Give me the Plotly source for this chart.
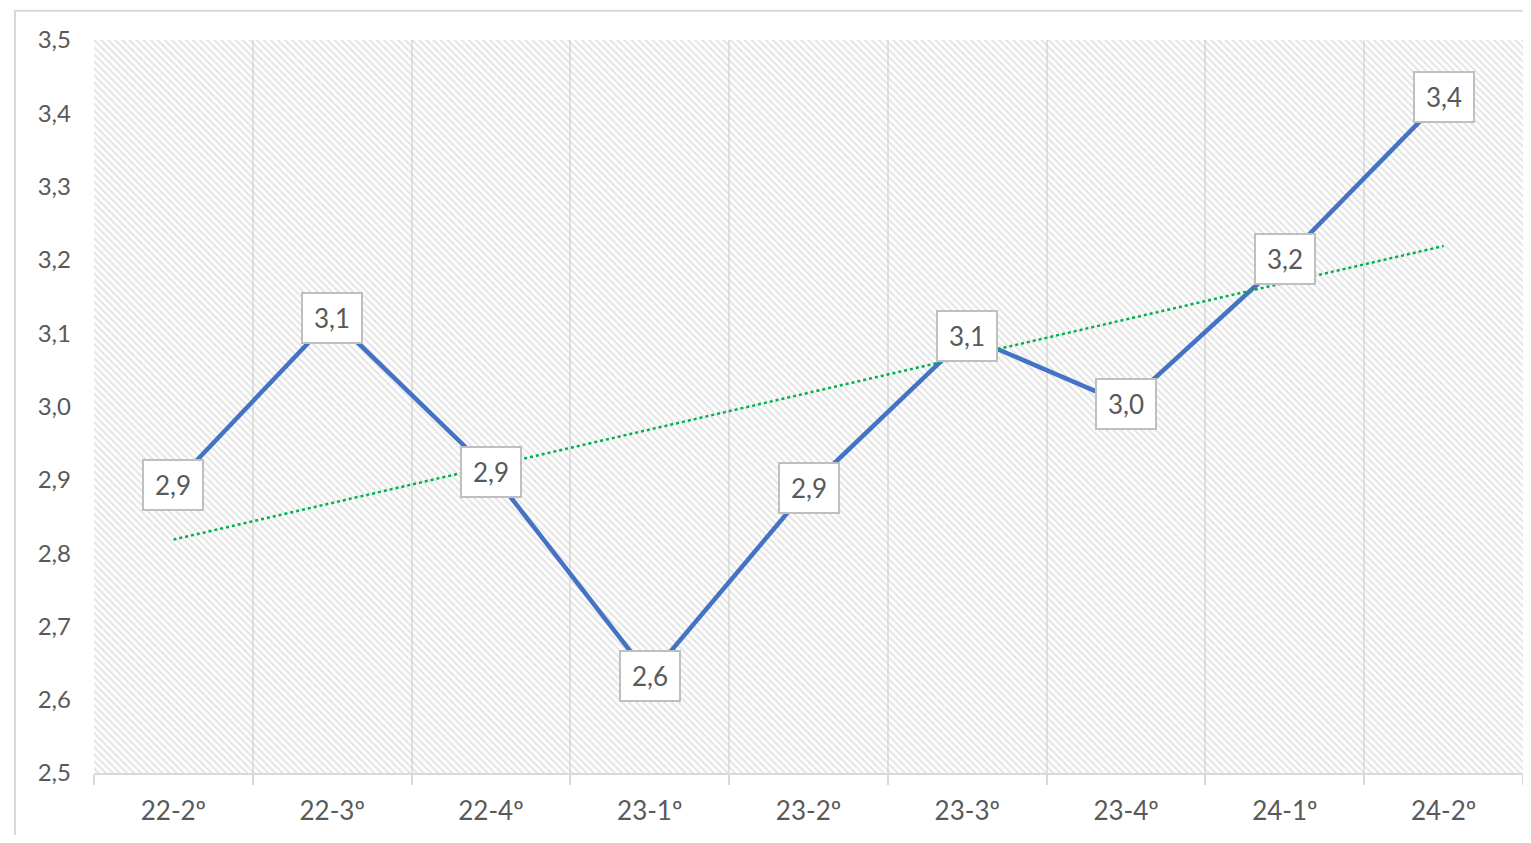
import numpy as np
import plotly.graph_objects as go

categories = ["22-2º", "22-3º", "22-4º", "23-1º", "23-2º", "23-3º", "23-4º", "24-1º", "24-2º"]
values = [2.893, 3.121, 2.911, 2.632, 2.889, 3.096, 3.003, 3.201, 3.422]
y_min, y_max = 2.5, 3.5

idx = np.arange(len(values))
slope, intercept = np.polyfit(idx, values, 1)
trend = slope * idx + intercept

font_family = "Lato, 'Open Sans', sans-serif"
grey_text = "#595959"

fig = go.Figure()

# hatched plot-area background
fig.add_trace(go.Bar(
    x=categories, y=[y_max - y_min] * len(categories), base=y_min, width=1,
    marker=dict(color="rgba(0,0,0,0)", line=dict(width=0),
                pattern=dict(shape="\\", fgcolor="#cdcdcd", bgcolor="rgba(0,0,0,0)",
                             size=5, solidity=0.45)),
    hoverinfo="skip", showlegend=False,
))

fig.add_trace(go.Scatter(
    x=categories, y=values, mode="lines",
    line=dict(color="#4472C4", width=4.5),
    showlegend=False,
))

fig.add_trace(go.Scatter(
    x=categories, y=trend, mode="lines",
    line=dict(color="#00B050", width=2.5, dash="dot"),
    showlegend=False,
))

for c, v in zip(categories, values):
    fig.add_annotation(
        x=c, y=v, text=f"{v:.1f}".replace(".", ","), showarrow=False,
        font=dict(family=font_family, size=26, color=grey_text),
        bgcolor="white", bordercolor="#bfbfbf", borderwidth=2, borderpad=3,
        width=52, height=42,
    )

fig.add_shape(type="rect", xref="paper", yref="paper",
              x0=-0.0553, x1=1.2, y0=-0.3, y1=1.04,
              line=dict(color="#d9d9d9", width=2), fillcolor="rgba(0,0,0,0)",
              layer="below")

fig.update_layout(
    width=1515, height=827,
    margin=dict(l=86, r=0, t=32, b=62),
    paper_bgcolor="white", plot_bgcolor="white",
    separators=",.",
    bargap=0,
    font=dict(family=font_family, color=grey_text, size=22),
    xaxis=dict(
        type="category", tickson="boundaries", ticks="outside", ticklen=10,
        tickcolor="#d9d9d9", tickwidth=2,
        showgrid=True, gridcolor="#e3e3e3", gridwidth=2,
        showline=True, linecolor="#d9d9d9", linewidth=2,
        tickfont=dict(size=26, color=grey_text),
        ticklabelstandoff=14,
        range=[-0.5, len(categories) - 0.5],
        zeroline=False,
    ),
    yaxis=dict(
        range=[y_min, y_max], dtick=0.1, tick0=y_min, tickformat=".1f",
        showgrid=False, zeroline=False, showline=False,
        tickfont=dict(size=24, color=grey_text),
        ticklabelstandoff=22,
    ),
)

fig.write_html("out.html")
